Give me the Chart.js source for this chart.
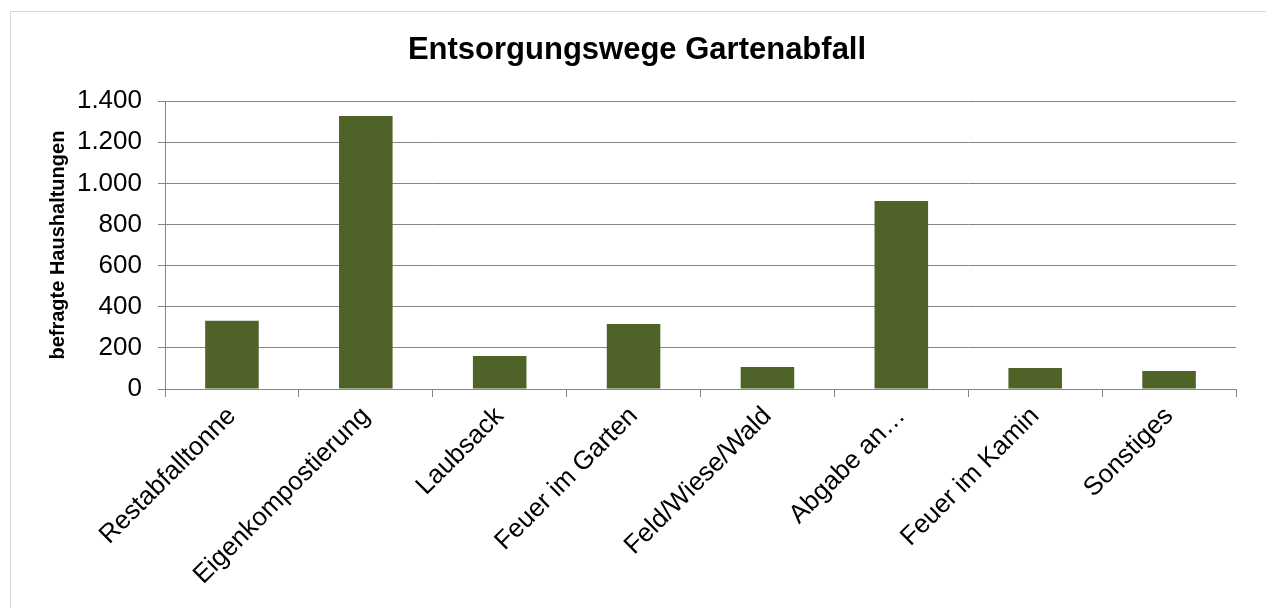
<!DOCTYPE html>
<html lang="de">
<head>
<meta charset="utf-8">
<title>Entsorgungswege Gartenabfall</title>
<script src="https://cdn.jsdelivr.net/npm/chart.js@4/dist/chart.umd.min.js"></script>
<style>
  html, body { margin: 0; padding: 0; background: #fff; }
  #wrap { width: 1266px; height: 608px; position: relative; }
</style>
</head>
<body>
<div id="wrap"><canvas id="chart"></canvas></div>
<script>
// Entsorgungswege für Gartenabfall, Anzahl befragter Haushalte
const categories = [
  'Restabfalltonne',
  'Eigenkompostierung',
  'Laubsack',
  'Feuer im Garten',
  'Feld/Wiese/Wald',
  'Abgabe an…',
  'Feuer im Kamin',
  'Sonstiges'
];
const haushalte = [332, 1328, 160, 316, 107, 914, 102, 88];
const yMax = 1400;
const yStep = 200;

const FONT = "'Liberation Sans', Arial, sans-serif";
const GRID = '#868686';

// Tausenderpunkt wie in der deutschen Schreibweise
function deNumber(v) {
  return String(v).replace(/\B(?=(\d{3})+(?!\d))/g, '.');
}

// weißer Hintergrund und dünner Rahmen oben/links
const framePlugin = {
  id: 'frame',
  beforeDraw(chart) {
    const ctx = chart.ctx;
    ctx.save();
    ctx.fillStyle = '#fff';
    ctx.fillRect(0, 0, chart.width, chart.height);
    ctx.strokeStyle = '#d9d9d9';
    ctx.lineWidth = 1;
    ctx.strokeRect(10.5, 11.5, chart.width + 20, chart.height + 20);
    ctx.restore();
  }
};

const ctx = document.getElementById('chart');
new Chart(ctx, {
  type: 'bar',
  data: {
    labels: categories,
    datasets: [{
      label: 'befragte Haushaltungen',
      data: haushalte,
      backgroundColor: '#4f6228',
      borderWidth: 0,
      barPercentage: 0.4,
      categoryPercentage: 1
    }]
  },
  options: {
    responsive: true,
    maintainAspectRatio: false,
    animation: false,
    layout: { padding: { left: 38, right: 30, top: 0, bottom: 0 } },
    plugins: {
      legend: { display: false },
      tooltip: { enabled: false },
      title: {
        display: true,
        text: 'Entsorgungswege Gartenabfall',
        color: '#000',
        font: { family: FONT, size: 31, weight: 'bold' },
        padding: { top: 32, bottom: 32 }
      }
    },
    scales: {
      x: {
        offset: true,
        grid: {
          offset: true,
          drawOnChartArea: false,
          drawTicks: true,
          tickLength: 8,
          color: GRID,
          lineWidth: 1
        },
        border: { display: true, color: GRID, width: 1 },
        ticks: {
          autoSkip: false,
          minRotation: 45,
          maxRotation: 45,
          padding: 4,
          color: '#000',
          font: { family: FONT, size: 26 }
        },
        afterFit(scale) { scale.height = 608 - 389; }
      },
      y: {
        min: 0,
        max: yMax,
        grid: {
          color: GRID,
          lineWidth: 1,
          drawTicks: true,
          tickLength: 7
        },
        border: { display: true, color: GRID, width: 1 },
        ticks: {
          stepSize: yStep,
          padding: 16,
          color: '#000',
          font: { family: FONT, size: 26 },
          callback: (v) => deNumber(v)
        },
        title: {
          display: true,
          text: 'befragte Haushaltungen',
          color: '#000',
          font: { family: FONT, size: 20, weight: 'bold' },
          padding: { top: 8, bottom: 0 }
        },
        afterFit(scale) { scale.width = 127; }
      }
    }
  },
  plugins: [framePlugin]
});
</script>
</body>
</html>
